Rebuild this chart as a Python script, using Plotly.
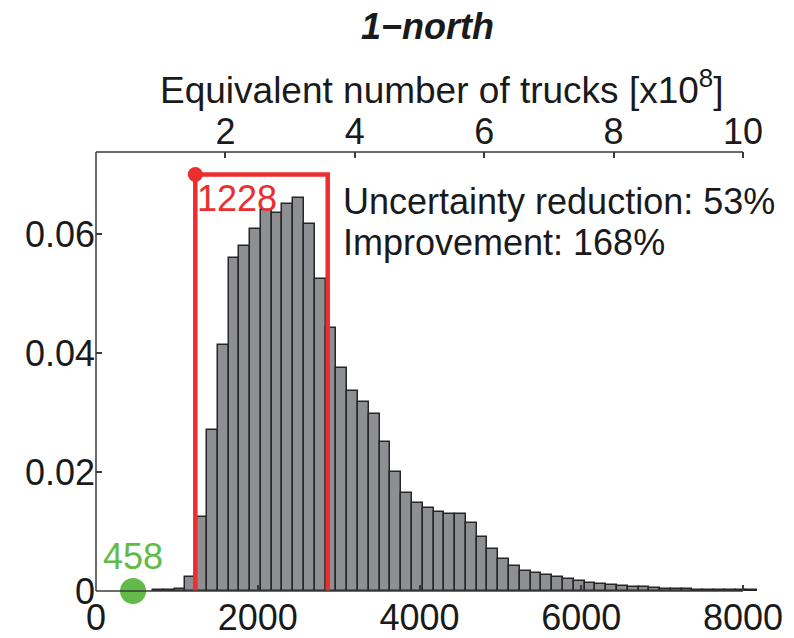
import numpy as np
import plotly.graph_objects as go

# Histogram of the equivalent number of trucks (relative frequency per bin)
bin_start = 705.0
bin_width = 133.4
frequency = [
    0.0001, 0.0002, 0.0004, 0.0023, 0.0125, 0.0271, 0.0413, 0.0560, 0.0580, 0.0608,
    0.0641, 0.0636, 0.0650, 0.0660, 0.0616, 0.0525, 0.0442, 0.0374, 0.0336, 0.0318,
    0.0297, 0.0250, 0.0200, 0.0164, 0.0148, 0.0139, 0.0133, 0.0129, 0.0129, 0.0115,
    0.0091, 0.0070, 0.0053, 0.0042, 0.0034, 0.0031, 0.0027, 0.0024, 0.0020, 0.0016,
    0.0013, 0.0011, 0.0010, 0.0009, 0.0007, 0.0006, 0.0005, 0.0004, 0.0003, 0.0003,
    0.0002, 0.0001, 0.0002, 0.0002, 0.0002, 0.0001,
]

# Reference values and interval
prior_value = 458
lower_bound = 1228
upper_bound = 2865
interval_height = 0.07

bottom_ticks = [0, 2000, 4000, 6000, 8000]
top_ticks = [2, 4, 6, 8, 10]
y_ticks = [0, 0.02, 0.04, 0.06]
y_ticklabels = ["0", "0.02", "0.04", "0.06"]

stats_lines = ["Uncertainty reduction: 53%", "Improvement: 168%"]

# Axis geometry
x_max = 8000 * 661 / 647          # data range across the plotting width
trucks_scale = 10 / 8000          # top-axis units per bottom-axis unit
y_max = 0.07378

FONT = "Liberation Sans, Arial, Helvetica, sans-serif"
RED = "#EC2E2E"
GREEN = "#63BA48"
AXIS = "#3a3a3a"
TEXT = "#1a1a1a"

centers = bin_start + bin_width * (np.arange(len(frequency)) + 0.5)

fig = go.Figure()

fig.add_trace(go.Bar(
    x=centers, y=frequency, width=bin_width,
    marker=dict(color="#8E8F93", line=dict(color="#262626", width=1.5)),
    showlegend=False, hoverinfo="skip",
))

# Interval box
fig.add_trace(go.Scatter(
    x=[lower_bound, lower_bound, upper_bound, upper_bound],
    y=[0, interval_height, interval_height, 0],
    mode="lines", line=dict(color=RED, width=4.5),
    showlegend=False, hoverinfo="skip", cliponaxis=False,
))
fig.add_trace(go.Scatter(
    x=[lower_bound], y=[interval_height], mode="markers",
    marker=dict(color=RED, size=15), showlegend=False, cliponaxis=False,
))
fig.add_trace(go.Scatter(
    x=[prior_value], y=[0], mode="markers",
    marker=dict(color=GREEN, size=26), showlegend=False, cliponaxis=False,
))

# Invisible trace carrying the top axis
fig.add_trace(go.Scatter(
    x=[0, x_max * trucks_scale], y=[None, None], xaxis="x2",
    mode="markers", showlegend=False, hoverinfo="skip",
))

tickfont = dict(family=FONT, size=36, color=TEXT)
common_axis = dict(showgrid=False, zeroline=False, showline=False, automargin=False,
                   ticks="inside", ticklen=6, tickwidth=1.5, tickcolor=AXIS,
                   tickfont=tickfont)

fig.update_layout(
    width=794, height=638,
    margin=dict(l=96, r=37, t=152, b=47, autoexpand=False),
    paper_bgcolor="white", plot_bgcolor="white",
    bargap=0,
    xaxis=dict(range=[0, x_max], tickvals=bottom_ticks,
               ticktext=[str(v) for v in bottom_ticks], ticklabelstandoff=2,
               **common_axis),
    xaxis2=dict(range=[0, x_max * trucks_scale], overlaying="x", side="top",
                anchor="y", tickvals=top_ticks,
                ticktext=[str(v) for v in top_ticks], **common_axis),
    yaxis=dict(range=[0, y_max], tickvals=y_ticks, ticktext=y_ticklabels,
               **common_axis),
)

edge = 8000 / x_max
fig.add_shape(type="line", xref="paper", yref="paper", x0=0, x1=0, y0=0, y1=1,
              line=dict(color=AXIS, width=1.5))
fig.add_shape(type="line", xref="paper", yref="paper", x0=0, x1=edge, y0=1, y1=1,
              line=dict(color=AXIS, width=1.5))
fig.add_shape(type="line", xref="paper", yref="paper", x0=0, x1=edge, y0=0, y1=0,
              line=dict(color=AXIS, width=1.5))

def py(px):
    """Convert a vertical page position to paper units."""
    return (591 - px) / 439

fig.add_annotation(text="<b><i>1\u2212north</i></b>", xref="paper", yref="paper",
                   x=(427 - 96) / 661, y=py(27), xanchor="center", yanchor="middle",
                   showarrow=False, font=dict(family=FONT, size=36, color=TEXT))
fig.add_annotation(text="Equivalent number of trucks [x10<sup>8</sup>]",
                   xref="paper", yref="paper",
                   x=(442 - 96) / 661, y=py(88), xanchor="center", yanchor="middle",
                   showarrow=False, font=dict(family=FONT, size=37, color=TEXT))

fig.add_annotation(text=str(lower_bound), x=lower_bound, y=interval_height,
                   xanchor="left", yanchor="top", xshift=0, yshift=-2,
                   showarrow=False, font=dict(family=FONT, size=36, color=RED))
fig.add_annotation(text=str(prior_value), x=prior_value, y=0,
                   xanchor="center", yanchor="bottom", yshift=12,
                   showarrow=False, font=dict(family=FONT, size=36, color=GREEN))

for i, line in enumerate(stats_lines):
    fig.add_annotation(text=line, xref="paper", yref="paper",
                       x=(341 - 96) / 661, y=py(201 + 41 * i),
                       xanchor="left", yanchor="middle", showarrow=False,
                       font=dict(family=FONT, size=36, color=TEXT))

fig.write_html("out.html")
